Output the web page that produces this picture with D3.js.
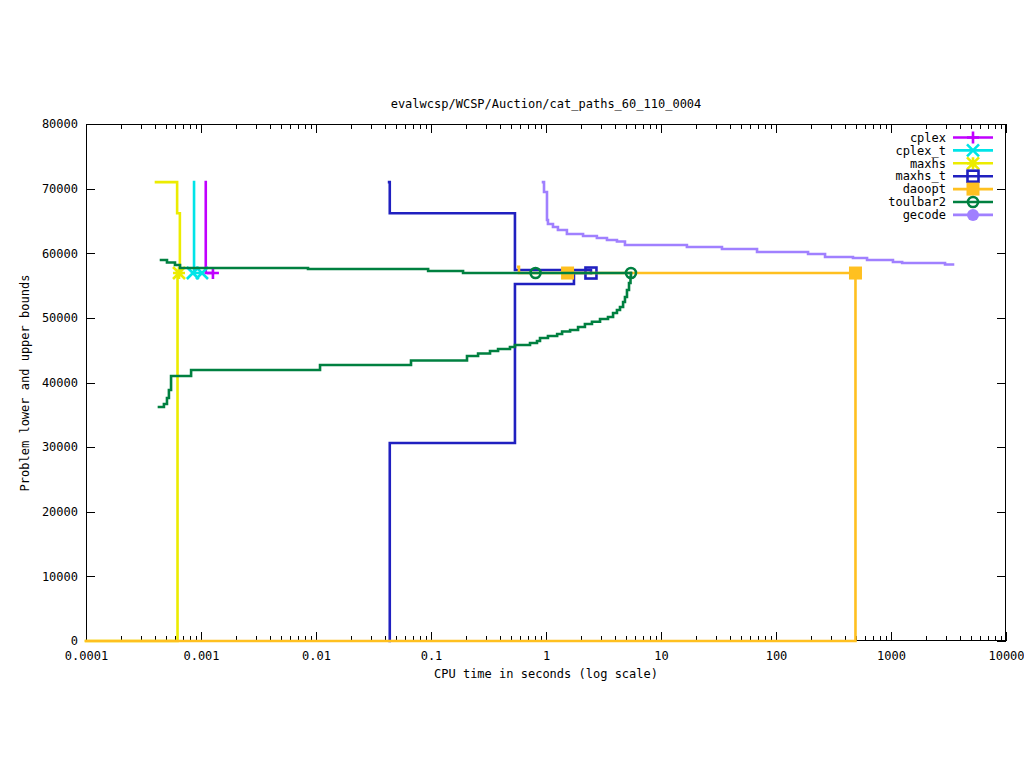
<!DOCTYPE html>
<html>
<head>
<meta charset="utf-8">
<script src="https://cdn.jsdelivr.net/npm/d3@7"></script>
<style>
  html, body { margin: 0; padding: 0; background: #fff; }
  svg text { font-family: "DejaVu Sans Mono", monospace; font-size: 12px; fill: #000; }
</style>
</head>
<body>
<svg id="chart" width="1024" height="768"></svg>
<script>
// ---------- data (time in seconds, bound value) ----------
const titleText = "evalwcsp/WCSP/Auction/cat_paths_60_110_0004";
const xLabelText = "CPU time in seconds (log scale)";
const yLabelText = "Problem lower and upper bounds";

const xTickValues = [0.0001, 0.001, 0.01, 0.1, 1, 10, 100, 1000, 10000];
const xTickLabels = ["0.0001", "0.001", "0.01", "0.1", "1", "10", "100", "1000", "10000"];
const yTickValues = [0, 10000, 20000, 30000, 40000, 50000, 60000, 70000, 80000];
const yTickLabels = ["0", "10000", "20000", "30000", "40000", "50000", "60000", "70000", "80000"];

const seriesNames = ["cplex", "cplex_t", "maxhs", "maxhs_t", "daoopt", "toulbar2", "gecode"];

const cplexUpper = [[0.00110, 71000], [0.00110, 56940], [0.00127, 56940]];
const cplexPoints = [[0.00127, 56940]];

const cplexTUpper = [[0.00087, 71000], [0.00087, 56940], [0.00102, 56940]];
const cplexTPoints = [[0.00085, 56940], [0.00102, 56940]];

const maxhsUpper = [[0.000406, 71000], [0.000620, 66200], [0.000655, 56940]];
const maxhsLower = [[0.0001, 0], [0.000625, 0], [0.000625, 56940]];
const maxhsPoints = [[0.000644, 56940]];

const maxhsTUpper = [[0.0432, 71000], [0.0438, 66200], [0.537, 57400], [2.46, 56940]];
const maxhsTLower = [[0.0437, 0], [0.0438, 30640], [0.537, 55240], [1.75, 56940], [2.46, 56940]];
const maxhsTPoints = [[2.46, 56940]];

const daooptUpper = [[0.575, 57900], [0.582, 56940], [491, 56940]];
const daooptLower = [[0.0001, 0], [491, 0], [491, 56940]];
const daooptPoints = [[1.54, 56940], [491, 56940]];

const toulbar2Upper = [[0.000449, 58950], [0.000506, 58570], [0.000594, 58180], [0.000657, 57720],
  [0.00852, 57560], [0.0944, 57250], [0.19, 56940], [5.48, 56940]];
const toulbar2Lower = [[0.000431, 36200], [0.000476, 36670], [0.000506, 37600], [0.000526, 38840],
  [0.000549, 41000], [0.00082, 41930], [0.01084, 42700], [0.067, 43400], [0.2056, 44100],
  [0.2566, 44490], [0.326, 44870], [0.383, 45180], [0.486, 45490], [0.537, 45800], [0.726, 46110],
  [0.835, 46420], [0.887, 46890], [1.04, 47200], [1.25, 47500], [1.38, 47890], [1.62, 48120],
  [1.90, 48590], [2.18, 49050], [2.51, 49410], [2.95, 49830], [3.46, 50140], [3.83, 50760],
  [4.14, 51220], [4.40, 51680], [4.68, 52460], [4.86, 53230], [5.06, 54310], [5.27, 55400],
  [5.43, 56330], [5.48, 56940]];
const toulbar2Points = [[0.811, 56940], [5.48, 56940]];

const gecodeUpper = [[0.942, 71000], [0.961, 69480], [1.02, 65150], [1.04, 64530], [1.15, 64060],
  [1.27, 63600], [1.52, 62980], [2.10, 62670], [2.77, 62370], [3.39, 62060], [4.14, 61820],
  [4.86, 61280], [16.8, 60970], [33.9, 60660], [68.4, 60200], [190, 59890], [267, 59420],
  [467, 59270], [619, 58960], [1040, 58650], [1250, 58500], [2950, 58260], [3460, 58260]];
const gecodePoints = [];

// ---------- layout ----------
const plotLeft = 86, plotRight = 1006, plotTop = 124, plotBottom = 641;

const svg = d3.select("#chart");
const x = d3.scaleLog().domain([0.0001, 10000]).range([plotLeft, plotRight]);
const y = d3.scaleLinear().domain([0, 80000]).range([plotBottom, plotTop]);

// minor ticks for log axis
const minorTicks = [];
for (let e = -4; e < 4; e++) {
  for (let m = 2; m <= 9; m++) minorTicks.push(m * Math.pow(10, e));
}

const axisG = svg.append("g");
axisG.append("g").attr("transform", `translate(0,${plotBottom})`)
  .call(d3.axisBottom(x).tickValues(xTickValues).tickSize(-9).tickFormat((d, i) => xTickLabels[i]))
  .call(g => g.select(".domain").remove())
  .call(g => g.selectAll("text").attr("y", 10).attr("dy", "0.71em"));
axisG.append("g").attr("transform", `translate(0,${plotBottom})`)
  .call(d3.axisBottom(x).tickValues(minorTicks).tickSize(-5).tickFormat(""))
  .call(g => g.select(".domain").remove());
axisG.append("g").attr("transform", `translate(0,${plotTop})`)
  .call(d3.axisTop(x).tickValues(xTickValues).tickSize(-9).tickFormat(""))
  .call(g => g.select(".domain").remove());
axisG.append("g").attr("transform", `translate(0,${plotTop})`)
  .call(d3.axisTop(x).tickValues(minorTicks).tickSize(-5).tickFormat(""))
  .call(g => g.select(".domain").remove());
axisG.append("g").attr("transform", `translate(${plotLeft},0)`)
  .call(d3.axisLeft(y).tickValues(yTickValues).tickSize(-9).tickFormat((d, i) => yTickLabels[i]))
  .call(g => g.select(".domain").remove())
  .call(g => g.selectAll("text").attr("x", -8));
axisG.append("g").attr("transform", `translate(${plotRight},0)`)
  .call(d3.axisRight(y).tickValues(yTickValues).tickSize(-9).tickFormat(""))
  .call(g => g.select(".domain").remove());
axisG.selectAll("line").attr("stroke", "#000").attr("shape-rendering", "crispEdges");
axisG.selectAll("text").style("font-family", "DejaVu Sans Mono, monospace").style("font-size", "12px").attr("fill", "#000");

// frame
svg.append("rect").attr("x", plotLeft + 0.5).attr("y", plotTop + 0.5)
  .attr("width", plotRight - plotLeft - 1).attr("height", plotBottom - plotTop - 1)
  .attr("fill", "none").attr("stroke", "#000").attr("stroke-width", 1)
  .attr("shape-rendering", "crispEdges");

// title and labels
svg.append("text").attr("x", 546).attr("y", 108).attr("text-anchor", "middle").text(titleText);
svg.append("text").attr("x", 546).attr("y", 678).attr("text-anchor", "middle").text(xLabelText);
svg.append("text").attr("transform", "translate(29,383) rotate(-90)").attr("text-anchor", "middle").text(yLabelText);

// ---------- series ----------
const line = d3.line().x(d => x(d[0])).y(d => y(d[1])).curve(d3.curveStepAfter);
const LW = 2.6;
const PS = 6;

function drawMarker(g, type, cx, cy, color) {
  const s = PS;
  if (type === "plus") {
    g.append("path").attr("d", `M${cx - s},${cy}H${cx + s}M${cx},${cy - s}V${cy + s}`)
      .attr("stroke", color).attr("stroke-width", LW).attr("fill", "none");
  } else if (type === "cross") {
    g.append("path").attr("d", `M${cx - s},${cy - s}L${cx + s},${cy + s}M${cx - s},${cy + s}L${cx + s},${cy - s}`)
      .attr("stroke", color).attr("stroke-width", LW).attr("fill", "none");
  } else if (type === "star") {
    g.append("path").attr("d", `M${cx - s},${cy}H${cx + s}M${cx},${cy - s}V${cy + s}M${cx - s},${cy - s}L${cx + s},${cy + s}M${cx - s},${cy + s}L${cx + s},${cy - s}`)
      .attr("stroke", color).attr("stroke-width", LW).attr("fill", "none");
  } else if (type === "box") {
    g.append("rect").attr("x", cx - s + 0.5).attr("y", cy - s + 0.5).attr("width", 2 * s - 1).attr("height", 2 * s - 1)
      .attr("stroke", color).attr("stroke-width", LW).attr("fill", "none");
  } else if (type === "fbox") {
    g.append("rect").attr("x", cx - s - 0.5).attr("y", cy - s - 0.5).attr("width", 2 * s + 1).attr("height", 2 * s + 1)
      .attr("fill", color);
  } else if (type === "circle") {
    g.append("circle").attr("cx", cx).attr("cy", cy).attr("r", s - 1)
      .attr("stroke", color).attr("stroke-width", LW).attr("fill", "none");
  } else if (type === "fcircle") {
    g.append("circle").attr("cx", cx).attr("cy", cy).attr("r", s).attr("fill", color);
  }
}

const series = [
  { name: "cplex", color: "#c000ff", marker: "plus", lines: [cplexUpper], points: cplexPoints },
  { name: "cplex_t", color: "#00e4e8", marker: "cross", lines: [cplexTUpper], points: cplexTPoints },
  { name: "maxhs", color: "#ecec00", marker: "star", lines: [maxhsUpper, maxhsLower], points: maxhsPoints },
  { name: "maxhs_t", color: "#2020c0", marker: "box", lines: [maxhsTUpper, maxhsTLower], points: maxhsTPoints },
  { name: "daoopt", color: "#ffc020", marker: "fbox", lines: [daooptUpper, daooptLower], points: daooptPoints },
  { name: "toulbar2", color: "#008040", marker: "circle", lines: [toulbar2Upper, toulbar2Lower], points: toulbar2Points },
  { name: "gecode", color: "#a080ff", marker: "fcircle", lines: [gecodeUpper], points: gecodePoints }
];

const plotG = svg.append("g");
series.forEach(s => {
  const g = plotG.append("g").attr("class", "series-" + s.name);
  s.lines.forEach(data => {
    g.append("path").datum(data).attr("d", line)
      .attr("fill", "none").attr("stroke", s.color).attr("stroke-width", LW)
      .attr("stroke-linejoin", "miter").attr("stroke-linecap", "square");
  });
  s.points.forEach(p => drawMarker(g, s.marker, x(p[0]), y(p[1]), s.color));
});

// ---------- legend ----------
const legG = svg.append("g");
series.forEach((s, i) => {
  const ly = 137.5 + i * 12.9;
  legG.append("text").attr("x", 946).attr("y", ly).attr("dy", "0.35em").attr("text-anchor", "end").text(s.name);
  legG.append("line").attr("x1", 953).attr("x2", 993).attr("y1", ly).attr("y2", ly)
    .attr("stroke", s.color).attr("stroke-width", LW);
  drawMarker(legG, s.marker, 973, ly, s.color);
});
</script>
</body>
</html>
